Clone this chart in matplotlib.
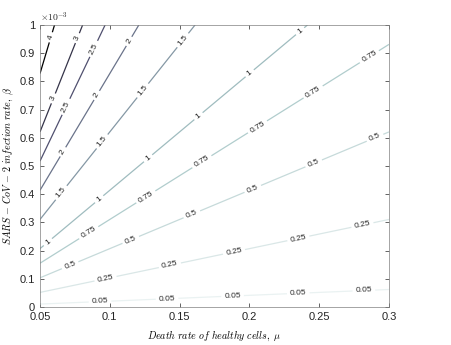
import matplotlib
matplotlib.use('Agg')
import matplotlib.pyplot as plt
from matplotlib.ticker import FuncFormatter
from matplotlib.colors import Normalize
import numpy as np

# contour levels shown on the chart
levels = [0.05, 0.25, 0.5, 0.75, 1, 1.5, 2, 2.5, 3, 4]
# beta where each level crosses mu = 0.05 (x1e-3)
beta_at_005 = [0.010, 0.052, 0.103, 0.155, 0.205, 0.31, 0.415, 0.52, 0.622, 0.83]

mu_min, mu_max = 0.05, 0.3
beta_max = 1e-3

# the lines go through the origin: level = beta / (k * mu)
k = np.mean([b * 1e-3 / (l * 0.05) for b, l in zip(beta_at_005[1:], levels[1:])])

mu = np.linspace(mu_min, mu_max, 300)
beta = np.linspace(0, beta_max, 300)
M, B = np.meshgrid(mu, beta)
Z = B / (k * M)

# where the inline labels sit (mu, beta)
label_pos = [
    (0.0593, 0.954e-3),
    (0.0765, 0.954e-3), (0.0594, 0.74e-3),
    (0.0908, 0.91e-3), (0.0686, 0.71e-3),
    (0.1145, 0.94e-3), (0.0908, 0.75e-3), (0.0665, 0.55e-3),
    (0.152, 0.947e-3), (0.123, 0.77e-3), (0.095, 0.585e-3), (0.064, 0.41e-3),
    (0.236, 0.98e-3), (0.2, 0.83e-3), (0.163, 0.68e-3), (0.127, 0.53e-3),
    (0.0916, 0.387e-3), (0.0557, 0.23e-3),
    (0.286, 0.887e-3), (0.246, 0.76e-3), (0.205, 0.645e-3), (0.166, 0.515e-3),
    (0.125, 0.397e-3), (0.0845, 0.267e-3),
    (0.29, 0.6e-3), (0.246, 0.51e-3), (0.2025, 0.418e-3), (0.159, 0.326e-3),
    (0.115, 0.238e-3), (0.0715, 0.149e-3),
    (0.281, 0.29e-3), (0.235, 0.245e-3), (0.189, 0.195e-3), (0.143, 0.149e-3),
    (0.097, 0.099e-3),
    (0.093, 0.018e-3), (0.141, 0.028e-3), (0.188, 0.035e-3), (0.235, 0.05e-3),
    (0.282, 0.057e-3),
]

plt.rcParams['mathtext.fontset'] = 'cm'
plt.rcParams['font.family'] = ['Liberation Sans', 'DejaVu Sans']

fig = plt.figure(figsize=(4.51, 3.45), dpi=100)
ax = fig.add_axes([40 / 451, 1 - 307 / 345, 349 / 451, 282 / 345])

cs = ax.contour(M, B, Z, levels=levels, cmap='bone_r',
                norm=Normalize(vmin=-0.2, vmax=4), linewidths=0.9)
ax.clabel(cs, fmt='%g', fontsize=6, inline=True, manual=label_pos,
          inline_spacing=3, colors='#262626')

ax.set_xlim(mu_min, mu_max)
ax.set_ylim(0, beta_max)
ax.set_xticks([0.05, 0.1, 0.15, 0.2, 0.25, 0.3])
ax.set_yticks(np.arange(0, 11) * 1e-4)
ax.xaxis.set_major_formatter(FuncFormatter(lambda v, p: f'{v:g}'))
ax.yaxis.set_major_formatter(FuncFormatter(lambda v, p: f'{round(v * 1e3, 2):g}'))
ax.tick_params(direction='in', top=True, right=True, length=3, width=0.5,
               labelsize=8, colors='#262626')
for s in ax.spines.values():
    s.set_linewidth(0.5)
    s.set_color('#808080')

ax.text(0, 1.005, r'$\times10^{-3}$', transform=ax.transAxes, fontsize=7,
        ha='left', va='bottom', color='#262626', family='DejaVu Sans')
ax.set_xlabel(r'$Death\ rate\ of\ healthy\ cells,\ \mu$', fontsize=7.2, labelpad=5)
ax.set_ylabel(r'$SARS\,-\,CoV\,-\,2\ infection\ rate,\ \beta$', fontsize=7.2, labelpad=3)

fig.savefig('out.png', dpi=100)
